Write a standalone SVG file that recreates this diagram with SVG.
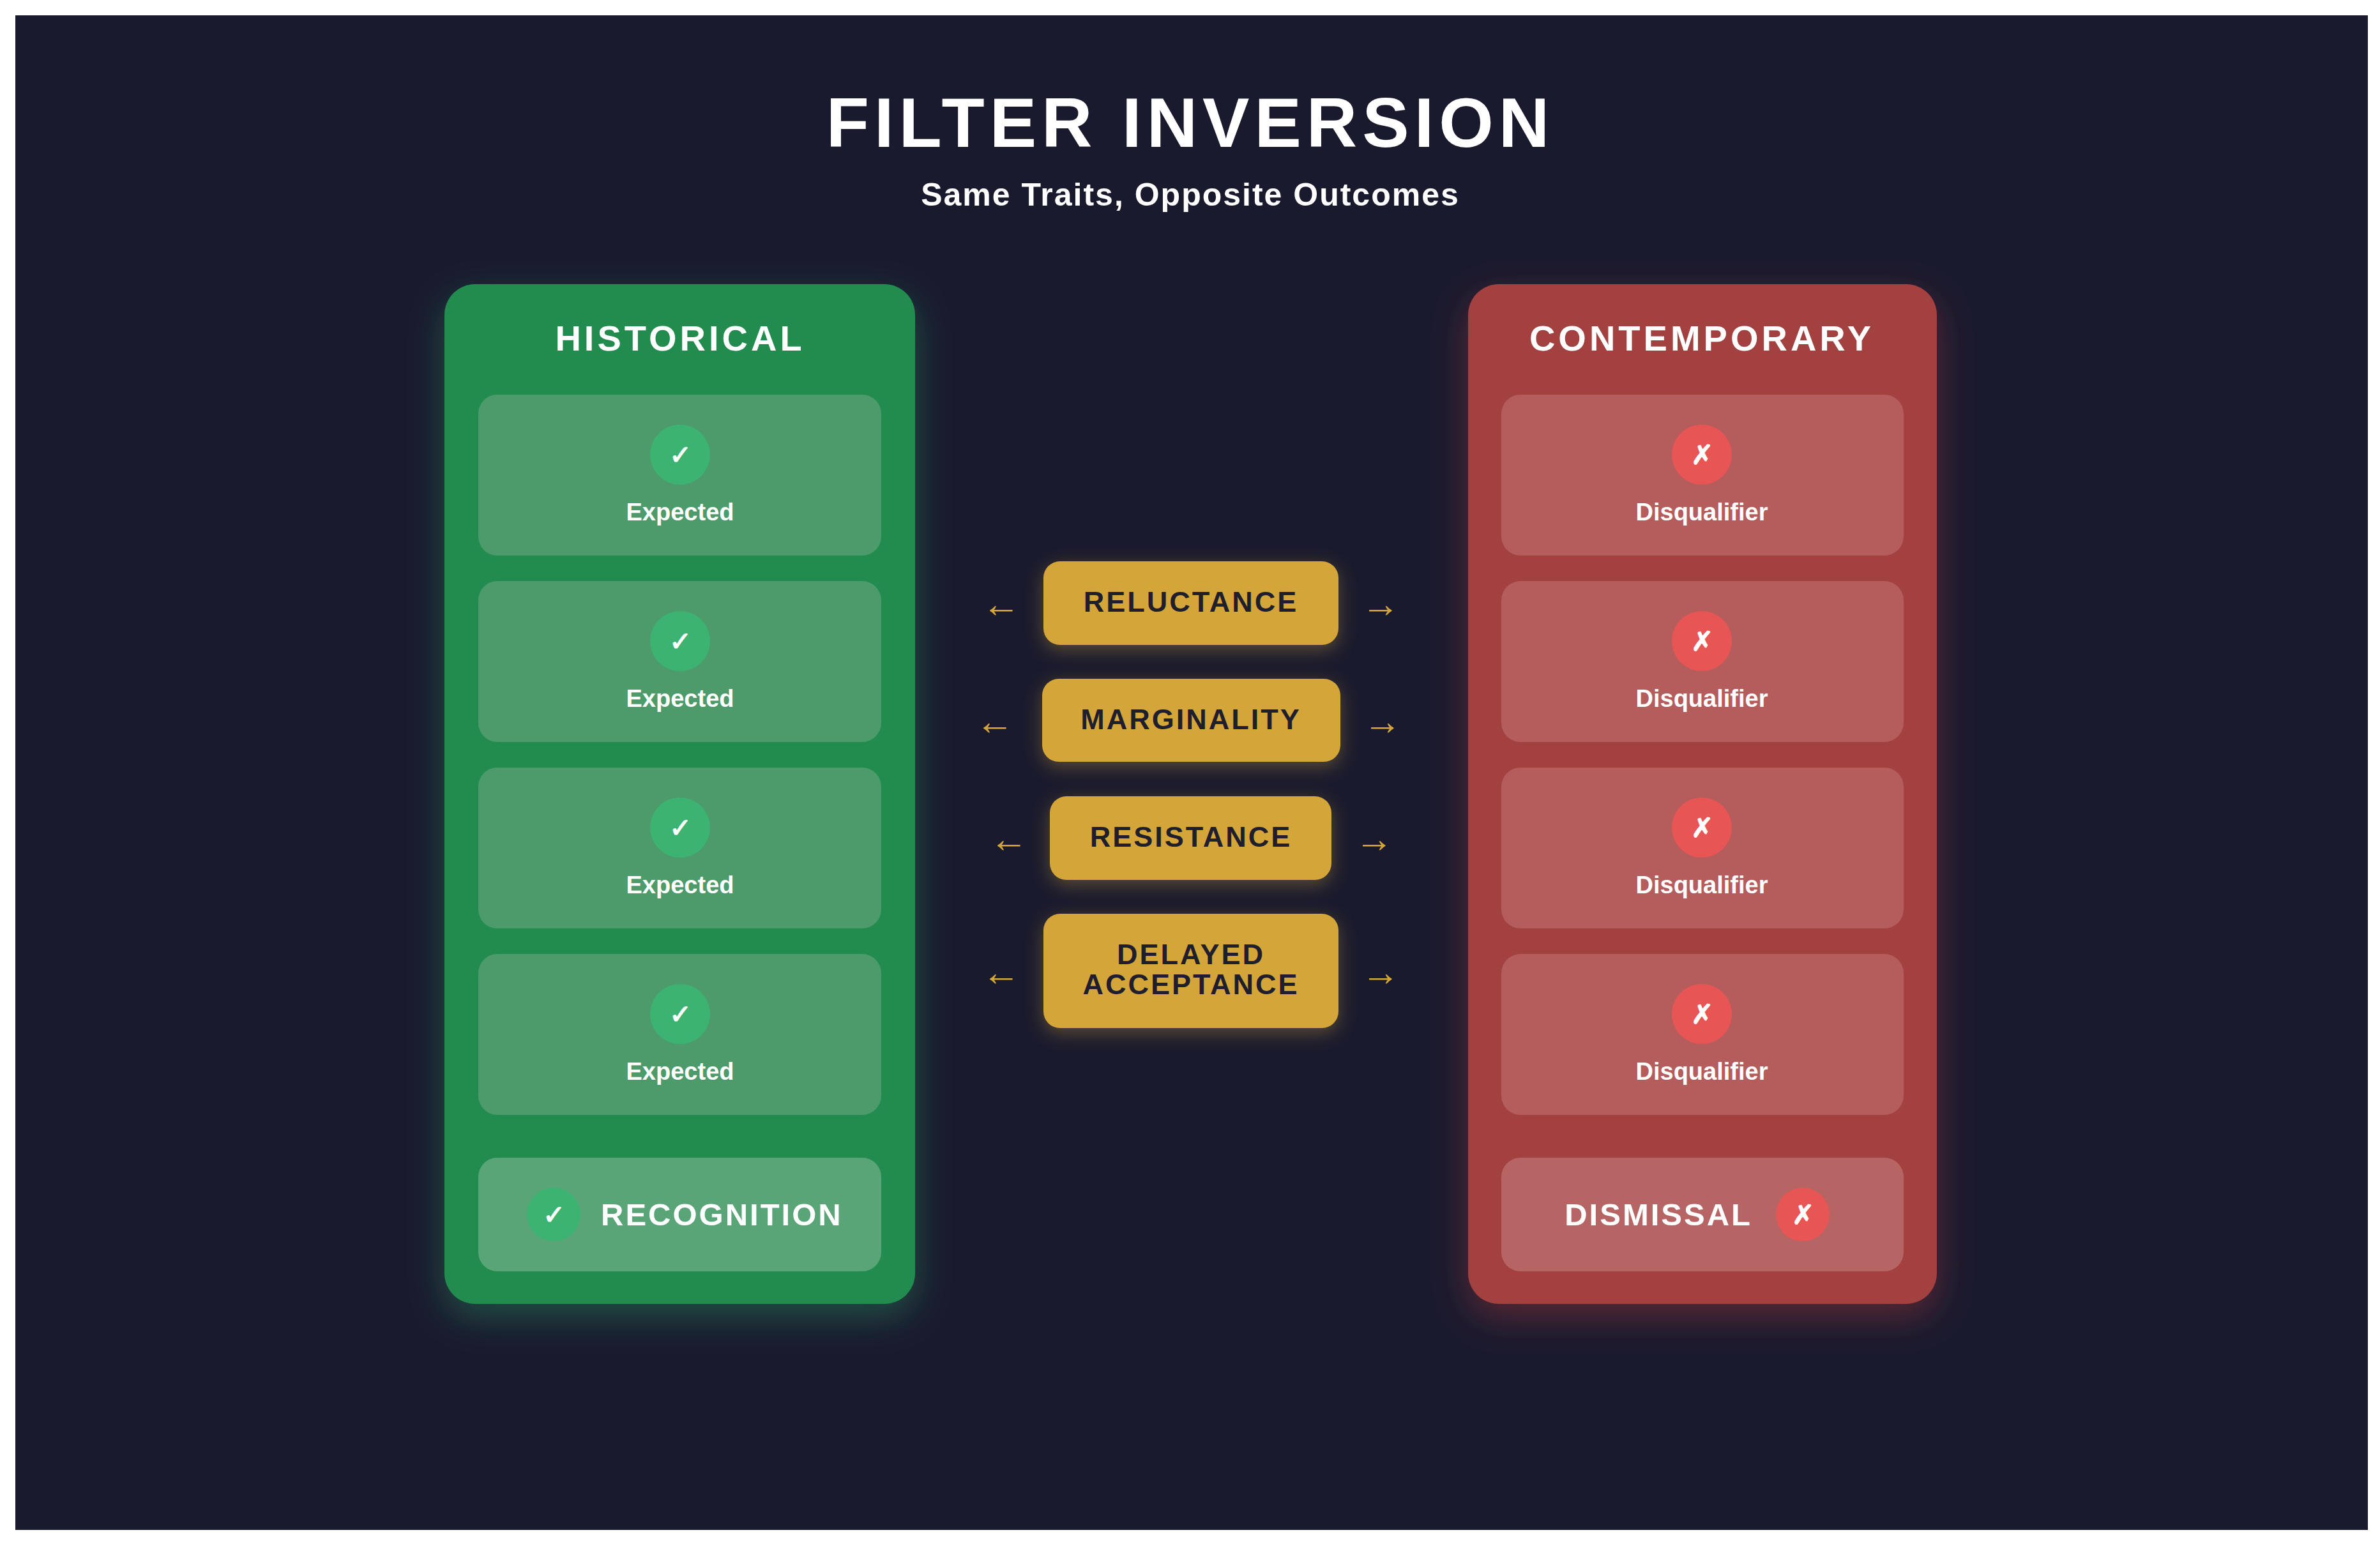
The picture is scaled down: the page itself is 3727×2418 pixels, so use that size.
<svg xmlns="http://www.w3.org/2000/svg" width="3727" height="2418" viewBox="0 0 3727 2418">
<defs>
<style>
text{font-family:"Liberation Sans",Arial,sans-serif;font-weight:bold;text-anchor:middle}
.t{fill:#fff}
.card-g{fill:#4d9b6a}
.card-r{fill:#b55c5c}
.ci-g{fill:#3cb371}
.ci-r{fill:#e85555}
.lbl{fill:#fff;font-size:38px}
.ico{fill:#fff;font-size:42px}
.mid{fill:#d4a537}
.mt{fill:#1e1e2e;font-size:45px;letter-spacing:3px}
.arr{fill:#d4a537;font-size:60px}
.head{fill:#fff;font-size:56px;letter-spacing:5px}
</style>
<filter id="gg" x="-30%" y="-20%" width="160%" height="150%"><feDropShadow dx="0" dy="20" stdDeviation="28" flood-color="#2ecc71" flood-opacity="0.3"/></filter>
<filter id="gr" x="-30%" y="-20%" width="160%" height="150%"><feDropShadow dx="0" dy="20" stdDeviation="28" flood-color="#e74c3c" flood-opacity="0.3"/></filter>
<filter id="gy" x="-30%" y="-50%" width="160%" height="200%"><feDropShadow dx="0" dy="8" stdDeviation="14" flood-color="#d4a537" flood-opacity="0.35"/></filter>
</defs>
<rect width="3727" height="2418" fill="#fff"/>
<rect x="24" y="24" width="3684" height="2372" fill="#1a1a2e"/>
<g id="title">
<text class="t" x="1864" y="230" font-size="110" letter-spacing="8">FILTER INVERSION</text>
<text class="t" x="1864" y="322" font-size="50" letter-spacing="2">Same Traits, Opposite Outcomes</text>
</g>
<g id="historical">
<rect x="696" y="445" width="737" height="1597" rx="48" fill="#218c4f" filter="url(#gg)"/>
<text class="head" x="1065" y="549">HISTORICAL</text>
<g id="h1"><rect class="card-g" x="749" y="618" width="631" height="252" rx="30"/><circle class="ci-g" cx="1065" cy="712" r="47"/><text class="ico" x="1065" y="727">✓</text><text class="lbl" x="1065" y="815">Expected</text></g>
<g id="h2"><rect class="card-g" x="749" y="910" width="631" height="252" rx="30"/><circle class="ci-g" cx="1065" cy="1004" r="47"/><text class="ico" x="1065" y="1019">✓</text><text class="lbl" x="1065" y="1107">Expected</text></g>
<g id="h3"><rect class="card-g" x="749" y="1202" width="631" height="252" rx="30"/><circle class="ci-g" cx="1065" cy="1296" r="47"/><text class="ico" x="1065" y="1311">✓</text><text class="lbl" x="1065" y="1399">Expected</text></g>
<g id="h4"><rect class="card-g" x="749" y="1494" width="631" height="252" rx="30"/><circle class="ci-g" cx="1065" cy="1588" r="47"/><text class="ico" x="1065" y="1603">✓</text><text class="lbl" x="1065" y="1691">Expected</text></g>
<g id="recognition"><rect x="749" y="1813" width="631" height="178" rx="30" fill="#5aa577"/><circle class="ci-g" cx="867" cy="1902" r="42"/><text class="ico" x="867" y="1917">✓</text><text class="t" x="941" y="1919" font-size="49" letter-spacing="3" style="text-anchor:start">RECOGNITION</text></g>
</g>
<g id="contemporary">
<rect x="2299" y="445" width="734" height="1597" rx="48" fill="#a33f3f" filter="url(#gr)"/>
<text class="head" x="2665" y="549">CONTEMPORARY</text>
<g id="c1"><rect class="card-r" x="2351" y="618" width="630" height="252" rx="30"/><circle class="ci-r" cx="2665" cy="712" r="47"/><text class="ico" x="2665" y="727">✗</text><text class="lbl" x="2665" y="815">Disqualifier</text></g>
<g id="c2"><rect class="card-r" x="2351" y="910" width="630" height="252" rx="30"/><circle class="ci-r" cx="2665" cy="1004" r="47"/><text class="ico" x="2665" y="1019">✗</text><text class="lbl" x="2665" y="1107">Disqualifier</text></g>
<g id="c3"><rect class="card-r" x="2351" y="1202" width="630" height="252" rx="30"/><circle class="ci-r" cx="2665" cy="1296" r="47"/><text class="ico" x="2665" y="1311">✗</text><text class="lbl" x="2665" y="1399">Disqualifier</text></g>
<g id="c4"><rect class="card-r" x="2351" y="1494" width="630" height="252" rx="30"/><circle class="ci-r" cx="2665" cy="1588" r="47"/><text class="ico" x="2665" y="1603">✗</text><text class="lbl" x="2665" y="1691">Disqualifier</text></g>
<g id="dismissal"><rect x="2351" y="1813" width="630" height="178" rx="30" fill="#b76464"/><circle class="ci-r" cx="2823" cy="1902" r="42"/><text class="ico" x="2823" y="1917">✗</text><text class="t" x="2744" y="1919" font-size="49" letter-spacing="3" style="text-anchor:end">DISMISSAL</text></g>
</g>
<g id="reluctance"><rect class="mid" x="1634" y="879" width="462" height="131" rx="26" filter="url(#gy)"/><text class="mt" x="1865" y="958">RELUCTANCE</text></g>
<g id="marginality"><rect class="mid" x="1632" y="1063" width="467" height="130" rx="26" filter="url(#gy)"/><text class="mt" x="1865" y="1142">MARGINALITY</text></g>
<g id="resistance"><rect class="mid" x="1644" y="1247" width="441" height="131" rx="26" filter="url(#gy)"/><text class="mt" x="1865" y="1326">RESISTANCE</text></g>
<g id="delayed"><rect class="mid" x="1634" y="1431" width="462" height="179" rx="26" filter="url(#gy)"/><text class="mt" x="1865" y="1510">DELAYED</text><text class="mt" x="1865" y="1557">ACCEPTANCE</text></g>
<g id="connectors">
<text class="arr" x="1568" y="966">←</text><text class="arr" x="2162" y="966">→</text>
<text class="arr" x="1558" y="1150">←</text><text class="arr" x="2165" y="1150">→</text>
<text class="arr" x="1580" y="1334">←</text><text class="arr" x="2152" y="1334">→</text>
<text class="arr" x="1568" y="1543">←</text><text class="arr" x="2162" y="1543">→</text>
</g>
</svg>
